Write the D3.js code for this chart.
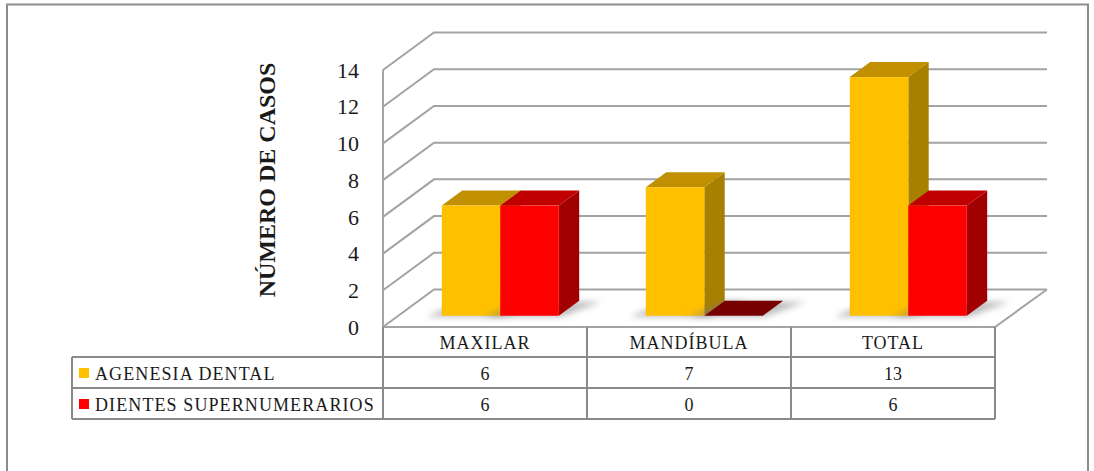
<!DOCTYPE html>
<html>
<head>
<meta charset="utf-8">
<script src="https://cdn.jsdelivr.net/npm/d3@7"></script>
<style>
  body { margin: 0; background: #fff; }
</style>
</head>
<body>
<div id="chart"></div>
<script>
const categories = ['MAXILAR', 'MANDÍBULA', 'TOTAL']
const seriesNames = ['AGENESIA DENTAL', 'DIENTES SUPERNUMERARIOS']
const agenesia = [6, 7, 13]
const supernumerarios = [6, 0, 6]
const yTicks = [0, 2, 4, 6, 8, 10, 12, 14]
const yTitle = 'NÚMERO DE CASOS'

const seriesValues = [agenesia, supernumerarios]
const palette = [
  { front: '#FFC000', top: '#C09000', side: '#A88000', flat: '#8a6a00' },
  { front: '#FF0000', top: '#C00000', side: '#A00000', flat: '#780000' }
]
const serif = 'Liberation Serif'

const width = 1094, height = 471
const svg = d3.select('#chart').append('svg')
    .attr('width', width)
    .attr('height', height)
    .attr('font-family', serif)
    .attr('fill', '#1a1a1a')

const defs = svg.append('defs')
defs.append('filter').attr('id', 'blur')
    .attr('x', '-50%').attr('y', '-50%').attr('width', '200%').attr('height', '200%')
    .append('feGaussianBlur').attr('stdDeviation', 3)

// outer frame
svg.append('rect')
    .attr('x', 7).attr('y', 4.5)
    .attr('width', 1081).attr('height', 480)
    .attr('fill', 'none')
    .attr('stroke', '#8c8c8c')
    .attr('stroke-width', 2)

// 3d geometry
const depthX = 51, depthY = -37.5
const floorY = 327
const x = d3.scaleBand().domain(categories).range([383, 995])
const y = d3.scaleLinear().domain([0, 14]).range([floorY, floorY - 257])
const xSub = d3.scaleBand().domain(seriesNames).range([0, x.bandwidth()]).paddingOuter(0.744)

const gridColor = '#a3a3a3'
const grid = svg.append('g')
    .attr('stroke', gridColor)
    .attr('stroke-width', 2)
    .attr('fill', 'none')

yTicks.forEach(t => {
  grid.append('path')
      .attr('d', d3.line()([
        [383, y(t)],
        [383 + depthX, y(t) + depthY],
        [1047, y(t) + depthY]
      ]))
})

// front vertical axis line
grid.append('line')
    .attr('x1', 383).attr('x2', 383)
    .attr('y1', y(14)).attr('y2', floorY)

// floor front and right edges
grid.append('path')
    .attr('d', d3.line()([
      [383, floorY],
      [995, floorY],
      [995 + depthX + 1, floorY + depthY]
    ]))

// y tick labels
svg.append('g').selectAll('text')
    .data(yTicks)
    .enter().append('text')
    .attr('x', 359)
    .attr('y', d => y(d))
    .attr('dy', '0.35em')
    .attr('text-anchor', 'end')
    .attr('font-family', serif)
    .attr('font-size', 22)
    .text(d => d)

svg.append('text')
    .attr('transform', 'translate(275,180) rotate(-90)')
    .attr('text-anchor', 'middle')
    .attr('font-family', serif)
    .attr('font-size', 24)
    .attr('font-weight', 'bold')
    .text(yTitle)

// bars
const d0 = 0.3, d1 = 0.7
const bars = svg.append('g')

function bar(cat, si, v) {
  const c = palette[si]
  const bx = x(cat) + xSub(seriesNames[si]) + depthX * d0
  const bw = xSub.bandwidth()
  const base = y(0) + depthY * d0
  const top = y(v) + depthY * d0
  const ddx = depthX * (d1 - d0), ddy = depthY * (d1 - d0)

  // soft shadow on floor
  bars.append('path')
      .attr('d', d3.line()([
        [bx - 16, base + 1], [bx + bw + 2, base + 1],
        [bx + bw + ddx + 22, base + ddy + 1], [bx + ddx, base + ddy + 1]
      ]))
      .attr('fill', '#7a7a7a')
      .attr('opacity', 0.5)
      .attr('filter', 'url(#blur)')

  if (v === 0) {
    bars.append('path')
        .attr('d', d3.line()([
          [bx, base], [bx + bw, base], [bx + bw + ddx, base + ddy], [bx + ddx, base + ddy]
        ]))
        .attr('fill', c.flat)
    return
  }
  bars.append('path')
      .attr('d', d3.line()([
        [bx + bw, top], [bx + bw + ddx, top + ddy], [bx + bw + ddx, base + ddy], [bx + bw, base]
      ]))
      .attr('fill', c.side)
  bars.append('path')
      .attr('d', d3.line()([
        [bx, top], [bx + ddx, top + ddy], [bx + bw + ddx, top + ddy], [bx + bw, top]
      ]))
      .attr('fill', c.top)
  bars.append('rect')
      .attr('x', bx).attr('y', top)
      .attr('width', bw).attr('height', base - top)
      .attr('fill', c.front)
}

categories.forEach((cat, ci) => {
  seriesValues.forEach((vals, si) => bar(cat, si, vals[ci]))
})

// data table
const rowY = [floorY, 357, 388, 419]
const legendX = 72
const table = svg.append('g')
const lineStyle = sel => sel.attr('stroke', '#8a8a8a').attr('stroke-width', 2)

// horizontal lines
table.append('line').call(lineStyle).attr('x1', legendX).attr('x2', 995).attr('y1', rowY[1]).attr('y2', rowY[1])
table.append('line').call(lineStyle).attr('x1', legendX).attr('x2', 995).attr('y1', rowY[2]).attr('y2', rowY[2])
table.append('line').call(lineStyle).attr('x1', legendX).attr('x2', 995).attr('y1', rowY[3]).attr('y2', rowY[3])
// vertical lines
table.append('line').call(lineStyle).attr('x1', legendX).attr('x2', legendX).attr('y1', rowY[1]).attr('y2', rowY[3])
const colEdges = categories.map(c => x(c)).concat([x.range()[1]])
colEdges.forEach(cx => {
  table.append('line').call(lineStyle).attr('x1', cx).attr('x2', cx).attr('y1', floorY).attr('y2', rowY[3])
})

table.selectAll('text.head')
    .data(categories)
    .enter().append('text')
    .attr('class', 'head')
    .attr('x', d => x(d) + x.bandwidth() / 2)
    .attr('y', (rowY[0] + rowY[1]) / 2 + 1)
    .attr('dy', '0.35em')
    .attr('text-anchor', 'middle')
    .attr('font-family', serif)
    .attr('font-size', 18)
    .attr('letter-spacing', 1)
    .text(d => d)

seriesValues.forEach((vals, si) => {
  const cy = (rowY[si + 1] + rowY[si + 2]) / 2 + 1
  table.append('rect')
      .attr('x', 79).attr('y', cy - 5.5)
      .attr('width', 10).attr('height', 10)
      .attr('fill', palette[si].front)
  table.append('text')
      .attr('x', 95).attr('y', cy)
      .attr('dy', '0.35em')
      .attr('font-family', serif)
      .attr('font-size', 18)
      .attr('letter-spacing', 1.1)
      .text(seriesNames[si])
  table.selectAll('text.v' + si)
      .data(vals)
      .enter().append('text')
      .attr('class', 'v' + si)
      .attr('x', (d, i) => x(categories[i]) + x.bandwidth() / 2)
      .attr('y', cy)
      .attr('dy', '0.35em')
      .attr('text-anchor', 'middle')
      .attr('font-family', serif)
      .attr('font-size', 18)
      .text(d => d)
})
</script>
</body>
</html>
